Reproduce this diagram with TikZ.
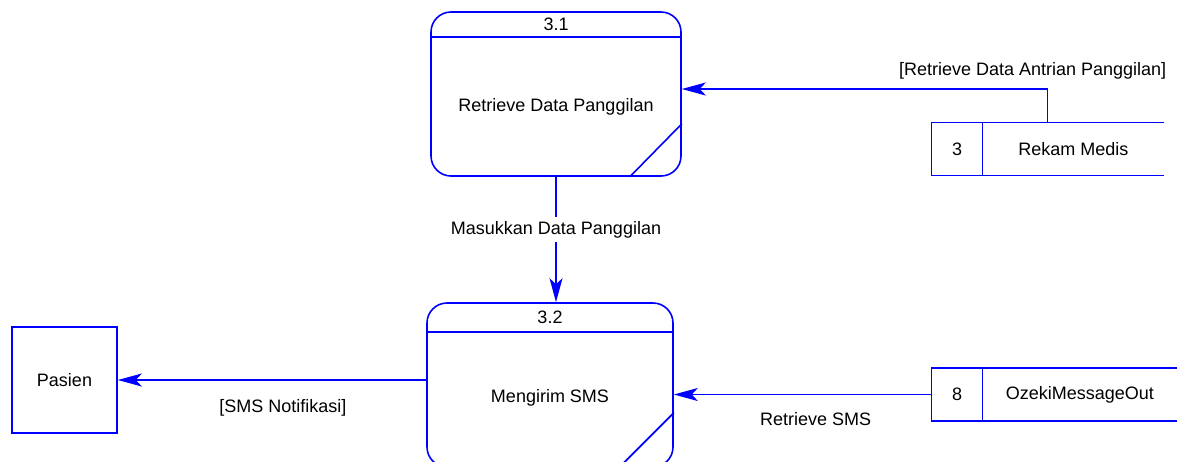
\documentclass[tikz,border=0pt]{standalone}
\usepackage{fontspec}
\setmainfont{Liberation Sans}
\usetikzlibrary{positioning,calc,arrows.meta}

\begin{document}
\begin{tikzpicture}[x=0.5pt, y=-0.5pt, font=\fontsize{9}{11}\selectfont,
  line/.style={draw=blue, line width=0.8pt},
  proc/.style={line, rounded corners=10pt, inner sep=0pt},
  flow/.style={line, -{Stealth[length=12pt, width=6.5pt, inset=3pt]}},
  storeid/.style={minimum width=25pt, minimum height=26pt, inner sep=0pt},
  storebody/.style={minimum height=26pt, inner sep=0pt},
  ext/.style={line, minimum width=52.5pt, minimum height=53pt, inner sep=0pt},
  lbl/.style={inner sep=2pt}]
\useasboundingbox (0,0) rectangle (1181,461);

\node[proc, minimum width=125pt, minimum height=82pt] (p31) at (556,94) {};
\draw[line] ($(p31.north west)+(0,26)$) -- ($(p31.north east)+(0,26)$);
\node (n31) at ($(p31.north)+(0,13)$) {3.1};
\node (t31) at ($(p31.center)+(0,13)$) {Retrieve Data Panggilan};
\draw[line] ($(p31.south east)+(-52,0)$) -- ($(p31.south east)+(0,-53)$);

\node[proc, minimum width=123pt, minimum height=82pt] (p32) at (550,385) {};
\draw[line] ($(p32.north west)+(0,30)$) -- ($(p32.north east)+(0,30)$);
\node (n32) at ($(p32.north)+(0,15)$) {3.2};
\node (t32) at ($(p32.center)+(0,13)$) {Mengirim SMS};
\draw[line] ($(p32.south east)+(0,-55)$) -- ($(p32.south east)+(-55,0)$);

\node[storeid] (s3id) at (957,149) {3};
\node[storebody, minimum width=90.5pt, right=0pt of s3id] (s3) {Rekam Medis};
\draw[line] (s3.north east) -- (s3id.north west) -- (s3id.south west) -- (s3.south east);
\draw[line] (s3id.north east) -- (s3id.south east);

\node[storeid] (s8id) at (957,394.5) {8};
\node[storebody, minimum width=97pt, right=0pt of s8id] (s8) {OzekiMessageOut};
\draw[line] (s8.north east) -- (s8id.north west) -- (s8id.south west) -- (s8.south east);
\draw[line] (s8id.north east) -- (s8id.south east);

\node[ext] (pasien) at (64.5,380) {Pasien};

\draw[flow] (p31.south) -- (p31.south |- p32.north) node[lbl, pos=0.42, fill=white] {Masukkan Data Panggilan};
\draw[flow] ([xshift=-13pt]s3.north) |- ([yshift=2.5pt]p31.east) node[pos=0.52, above, yshift=1pt] {[Retrieve Data Antrian Panggilan]};
\draw[flow] (s8id) -- (s8id -| p32.east) node[pos=0.45, below=5pt] {Retrieve SMS};
\draw[flow] (p32.west |- pasien) -- (pasien) node[pos=0.465, below=6pt] {[SMS Notifikasi]};
\end{tikzpicture}
\end{document}
